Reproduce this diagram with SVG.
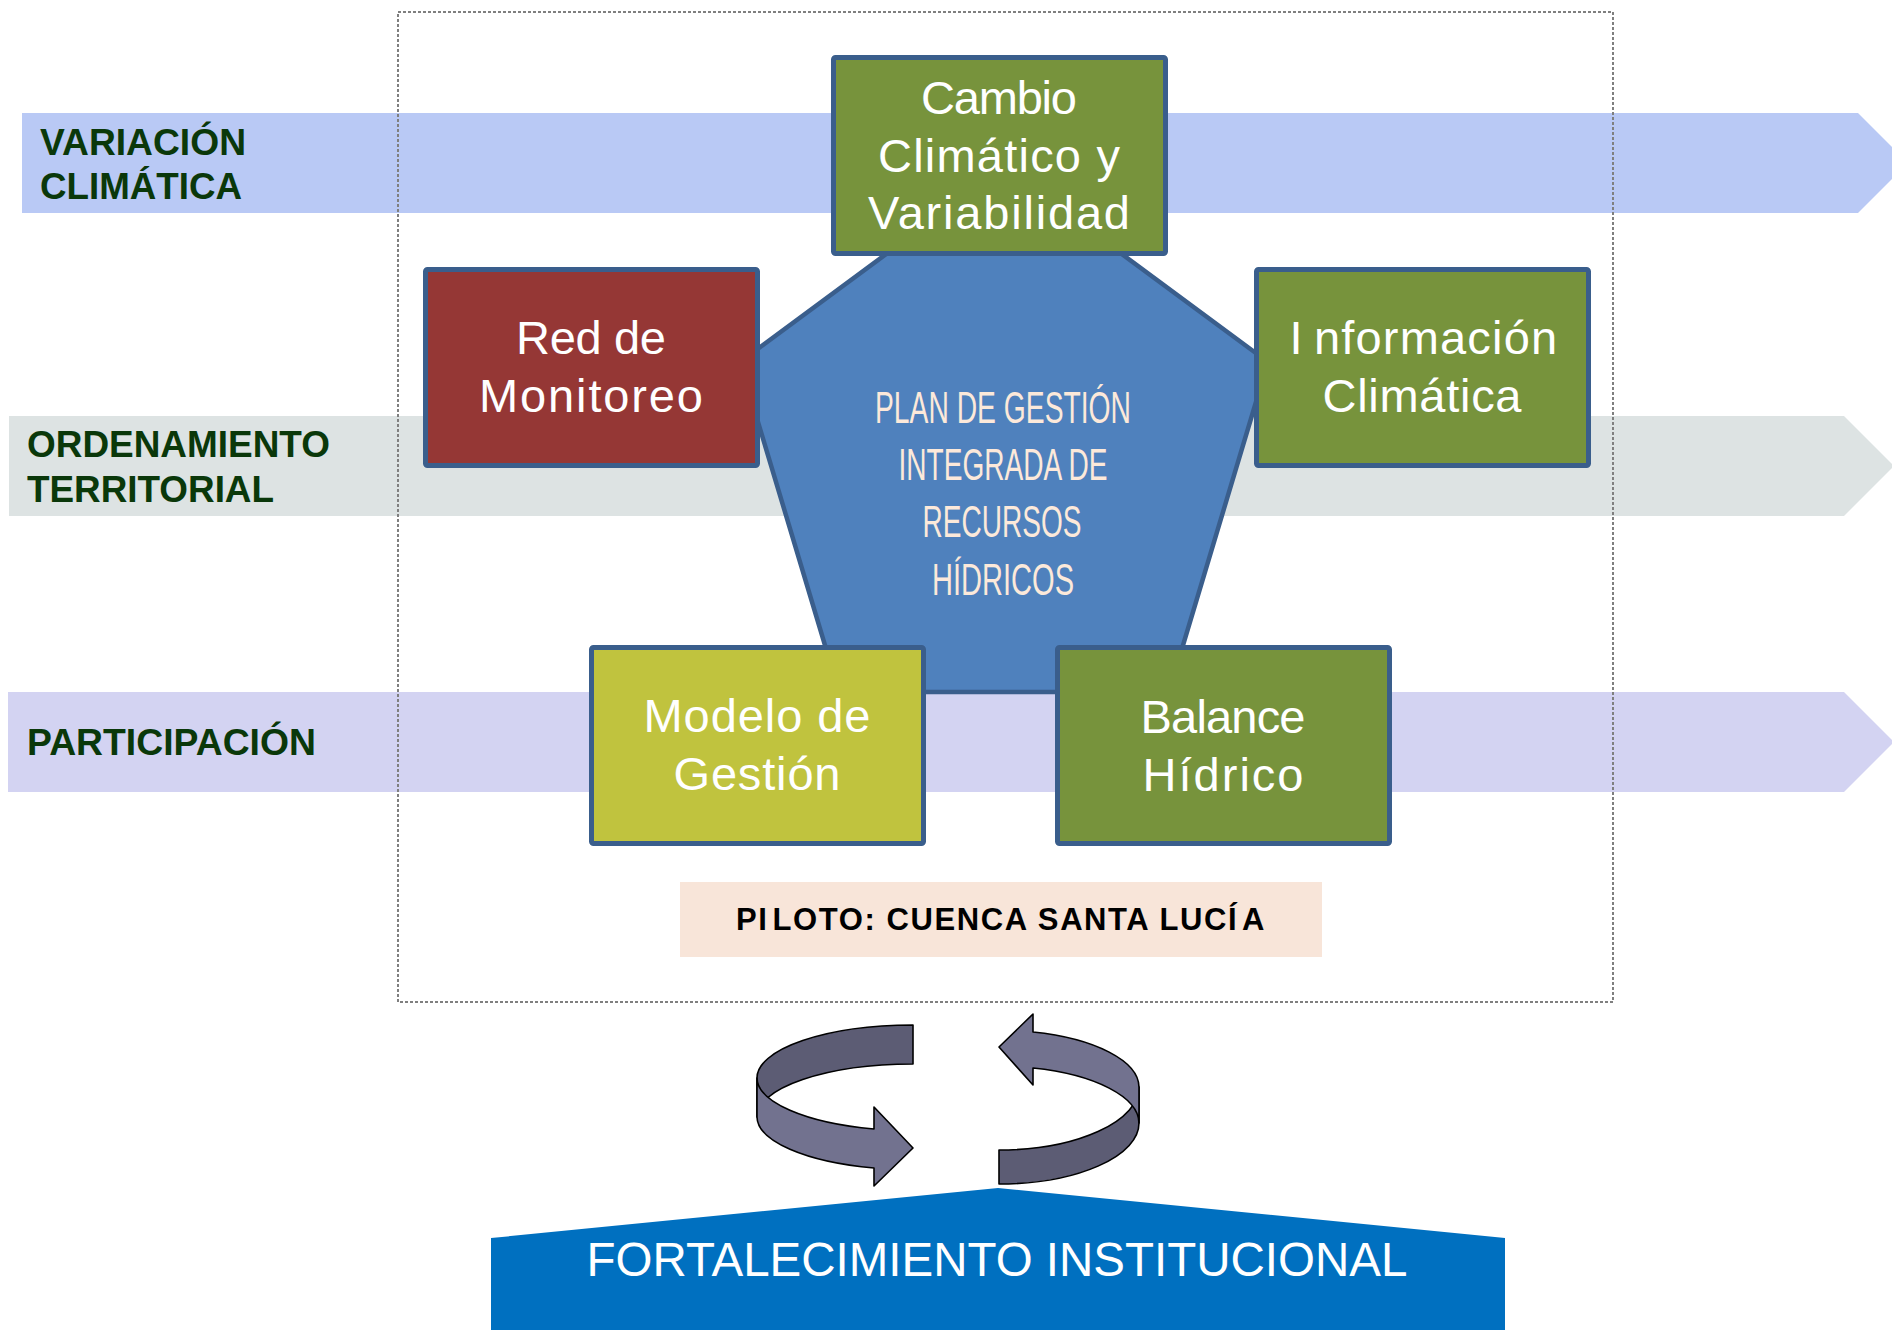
<svg xmlns="http://www.w3.org/2000/svg" width="1892" height="1330" viewBox="0 0 1892 1330">
<style>
.lbl{font-family:"Liberation Sans",Arial,sans-serif;font-weight:bold;font-size:37px;fill:#0A380A}
.box{stroke:#3A5E8C;stroke-width:5}
.bt{font-family:"Liberation Sans",Arial,sans-serif;font-size:47px;fill:#FFFFFF;text-anchor:middle}
.pt{font-family:"Liberation Sans",Arial,sans-serif;font-size:45px;fill:#FCE9DA;text-anchor:middle}
.rib{stroke:#000;stroke-width:1.6;stroke-linejoin:round}
.dark{fill:#5C5C74}
.light{fill:#72728F}
</style>
<rect width="1892" height="1330" fill="#FFFFFF"/>

<g id="band-variacion">
<polygon points="22,113 1858,113 1908,163 1858,213 22,213" fill="#B9C9F5"/>
<text class="lbl" x="40" y="155" textLength="206" lengthAdjust="spacingAndGlyphs">VARIACIÓN</text>
<text class="lbl" x="40" y="199" textLength="202" lengthAdjust="spacingAndGlyphs">CLIMÁTICA</text>
</g>
<g id="band-ordenamiento">
<polygon points="9,416 1844,416 1894,466 1844,516 9,516" fill="#DDE3E3"/>
<text class="lbl" x="27" y="457" textLength="303" lengthAdjust="spacingAndGlyphs">ORDENAMIENTO</text>
<text class="lbl" x="27" y="502" textLength="247" lengthAdjust="spacingAndGlyphs">TERRITORIAL</text>
</g>
<g id="band-participacion">
<polygon points="8,692 1844,692 1894,742 1844,792 8,792" fill="#D3D3F2"/>
<text class="lbl" x="27" y="755" textLength="289" lengthAdjust="spacingAndGlyphs">PARTICIPACIÓN</text>
</g>

<rect id="frame" x="398" y="12" width="1215" height="990" fill="none" stroke="#7F7F7F" stroke-width="2" stroke-dasharray="3 2"/>

<g id="plan">
<polygon points="1004,167 1268,362 1169,692 839,692 740,362" fill="#4F81BD" stroke="#3A5E8C" stroke-width="4.5" stroke-linejoin="miter"/>
<text class="pt" x="1003" y="423" textLength="256" lengthAdjust="spacingAndGlyphs">PLAN DE GESTIÓN</text>
<text class="pt" x="1003" y="480" textLength="209" lengthAdjust="spacingAndGlyphs">INTEGRADA DE</text>
<text class="pt" x="1002" y="537" textLength="159" lengthAdjust="spacingAndGlyphs">RECURSOS</text>
<text class="pt" x="1003" y="595" textLength="142" lengthAdjust="spacingAndGlyphs">HÍDRICOS</text>
</g>

<g id="cambio">
<rect class="box" x="833.5" y="57.5" width="332" height="196" rx="2" fill="#77933C"/>
<text class="bt" x="999" y="114" textLength="156" lengthAdjust="spacing">Cambio</text>
<text class="bt" x="999" y="172" textLength="242" lengthAdjust="spacing">Climático y</text>
<text class="bt" x="999" y="229" textLength="262" lengthAdjust="spacing">Variabilidad</text>
</g>

<g id="red">
<rect class="box" x="425.5" y="269.5" width="332" height="196" rx="2" fill="#953735"/>
<text class="bt" x="591" y="354" textLength="150" lengthAdjust="spacing">Red de</text>
<text class="bt" x="591" y="412" textLength="224" lengthAdjust="spacing">Monitoreo</text>
</g>

<g id="informacion">
<rect class="box" x="1256.5" y="269.5" width="332" height="196" rx="2" fill="#77933C"/>
<text class="bt" x="1424" y="354" letter-spacing="1.2">I<tspan dx="10">nformación</tspan></text>
<text class="bt" x="1422" y="412" textLength="199" lengthAdjust="spacing">Climática</text>
</g>

<g id="modelo">
<rect class="box" x="591.5" y="647.5" width="332" height="196" rx="2" fill="#C0C33E"/>
<text class="bt" x="757" y="732" textLength="227" lengthAdjust="spacing">Modelo de</text>
<text class="bt" x="757" y="790" textLength="167" lengthAdjust="spacing">Gestión</text>
</g>

<g id="balance">
<rect class="box" x="1057.5" y="647.5" width="332" height="196" rx="2" fill="#77933C"/>
<text class="bt" x="1223" y="733" textLength="165" lengthAdjust="spacing">Balance</text>
<text class="bt" x="1223" y="791" textLength="161" lengthAdjust="spacing">Hídrico</text>
</g>

<g id="piloto">
<rect x="680" y="882" width="642" height="75" fill="#F8E5D9"/>
<text x="736" y="930" font-family="'Liberation Sans',Arial,sans-serif" font-weight="bold" font-size="31" fill="#000000" letter-spacing="1.6">PI<tspan dx="4">LOTO: CUENCA SANTA LUCÍ</tspan><tspan dx="4">A</tspan></text>
</g>

<g id="cycle-arrows">
<path class="rib dark" d="M913,1025 A156,53 0 0 0 757,1078 L757,1117 A156,53 0 0 1 913,1064 Z"/>
<path class="rib light" d="M757,1078 A156,53 0 0 0 874,1129 L874,1107 L913,1148 L874,1186 L874,1168 A156,53 0 0 1 757,1117 Z"/>
<path class="rib dark" d="M999,1150 A140,63 0 0 0 1139,1087 L1139,1123 A140,61 0 0 1 999,1184 Z"/>
<path class="rib light" d="M1033,1032 A140,57 0 0 1 1139,1087 L1139,1123 A140,57 0 0 0 1033,1068 L1033,1085 L999,1047 L1033,1014 Z"/>
</g>

<g id="fortalecimiento">
<polygon points="491,1238 998,1188 1505,1238 1505,1330 491,1330" fill="#0070C0"/>
<text x="997" y="1276" font-family="'Liberation Sans',Arial,sans-serif" font-size="47.5" fill="#FFFFFF" text-anchor="middle">FORTALECIMIENTO INSTITUCIONAL</text>
</g>
</svg>
